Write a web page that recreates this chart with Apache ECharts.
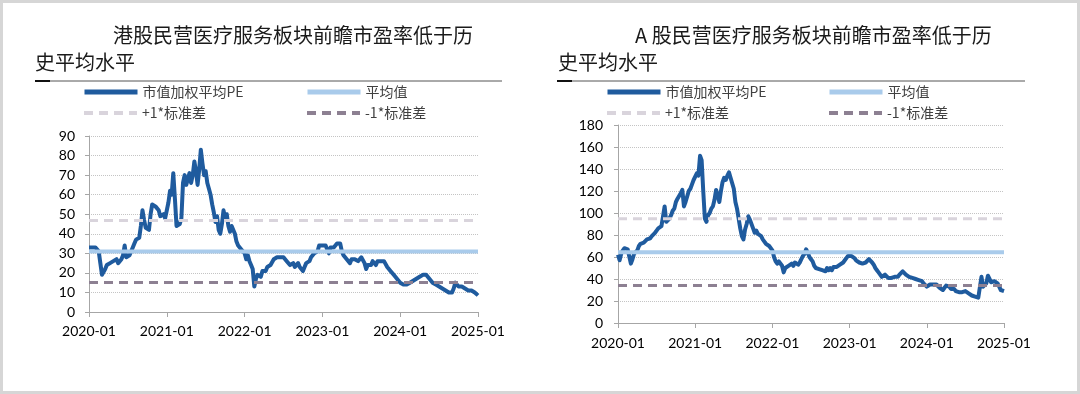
<!DOCTYPE html>
<html>
<head>
<meta charset="utf-8">
<script src="https://cdn.jsdelivr.net/npm/echarts@6/dist/echarts.min.js"></script>
<style>
html,body{margin:0;padding:0;background:#fff;}
#c{width:1080px;height:394px;}
</style>
</head>
<body>
<div id="c"></div>
<script>
// ---- data ----
const xTickLabels = ['2020-01','2021-01','2022-01','2023-01','2024-01','2025-01'];
const STEP = 0.25; // months between samples (weekly), starting 2020-01
// HK private healthcare services forward PE
const hkPE = [
 33,34,33,32, 33,32,31,25, 19,18,22,24, 23,25,24,26, 25,27,25,26, 27,29,34,28,
 27,29,28,33, 35,37,36,38, 44,52,47,43, 44,42,50,55, 56,54,55,52, 49,48,50,48,
 49,56,62,60, 71,58,44,43, 45,48,66,70, 65,68,71,66, 70,77,72,65, 73,83,76,70,
 72,66,63,60, 55,51,46,49, 42,40,45,52, 48,50,44,41, 44,45,40,36, 34,33,32,31,
 30,27,29,26, 24,22,13,17, 19,20,18,21, 22,21,23,22, 24,25,27,26, 28,29,28,27,
 28,27,26,25, 24,23,25,23, 24,25,23,22, 21,23,25,24, 26,28,27,30, 30,31,34,33,
 34,33,34,32, 30,33,34,33, 33,35,34,35, 31,29,28,27, 26,25,27,26, 27,28,26,27,
 28,27,25,22, 24,25,24,26, 25,24,26,25, 26,27,26,25, 23,22,21,20, 19,18,17,16,
 15,14,14,15, 14,15,15,16, 16,17,17,18, 18,19,19,19, 19,18,17,16, 15,15,14,14,
 13,13,12,12, 11,11,10,10, 10,12,15,14, 13,13,13,12, 12,12,11,11, 11,10,10,9.5,
 8.5];
const hkMean = 31, hkUp = 46.8, hkDown = 15.1;
// A-share private healthcare services forward PE
const aPE = [
 62,57,63,66, 68,69,67,68, 54,58,63,62, 66,70,72,71, 73,74,76,77, 77,79,80,82,
 84,86,85,88, 89,106,92,93, 95,98,102,104, 110,113,112,118, 121,106,110,115, 120,122,126,130,
 131,136,134,152, 148,120,95,92, 98,100,104,106, 112,121,116,110, 120,128,132,130, 134,137,132,127,
 122,110,104,95, 86,79,76,85, 90,97,94,93, 86,82,84,81, 80,79,76,74, 72,72,70,69,
 66,60,56,54, 56,57,52,46, 50,51,52,53, 54,52,55,54, 53,55,58,61, 63,67,64,60,
 58,56,52,50, 51,49,50,48, 49,47,50,48, 50,48,51,50, 51,52,53,54, 55,57,59,61,
 62,61,60,59, 57,56,55,54, 54,53,55,54, 58,57,55,53, 50,48,46,44, 42,43,44,43,
 41,42,41,42, 42,43,42,44, 45,47,46,44, 44,42,43,41, 41,40,41,39, 39,38,36,35,
 33,34,35,34, 35,34,35,34, 32,31,30,32, 34,35,33,31, 30,31,29,28, 28,27,28,29,
 29,28,27,26, 25,25,24,23, 23,24,42,33, 34,36,43,40, 37,38,38,39, 36,33,30,29,
 29];
const aMean = 64.3, aUp = 94.8, aDown = 34.1;
const names = ['市值加权平均PE','平均值','+1*标准差','-1*标准差'];
const hkTitle = ['港股民营医疗服务板块前瞻市盈率低于历','史平均水平'];
const aTitle = ['A 股民营医疗服务板块前瞻市盈率低于历','史平均水平'];

// ---- styles ----
const C_MAIN = '#1f5b9e', C_MEAN = '#a9cbeb', C_UP = '#d9d4dc', C_DOWN = '#8d8092';
const FONT_CJK = '"Noto Sans CJK SC", sans-serif';
const FONT_NUM = 'Lato, "Noto Sans", sans-serif';

function toPts(arr){ return arr.map((v,i)=>[i*STEP, v]); }
function flat(v){ return [[0,v],[60,v]]; }

function makeSeries(idx, pe, mean, up, down){
  const base = {type:'line', xAxisIndex:idx, yAxisIndex:idx, symbol:'none', silent:true, animation:false};
  return [
    Object.assign({}, base, {name:names[0], data:toPts(pe), lineStyle:{color:C_MAIN, width:4, join:'round'}, itemStyle:{color:C_MAIN}, z:2}),
    Object.assign({}, base, {name:names[1], data:flat(mean), lineStyle:{color:C_MEAN, width:4}, itemStyle:{color:C_MEAN}, z:3}),
    Object.assign({}, base, {name:names[2], data:flat(up), lineStyle:{color:C_UP, width:3, type:[9,6]}, itemStyle:{color:C_UP}, z:3}),
    Object.assign({}, base, {name:names[3], data:flat(down), lineStyle:{color:C_DOWN, width:3, type:[9,6]}, itemStyle:{color:C_DOWN}, z:3})
  ];
}

function xAxis(idx, margin){
  return {type:'value', gridIndex:idx, min:0, max:60, interval:12,
    axisLine:{show:true, lineStyle:{color:'#a6a6a6', width:1}},
    axisTick:{show:true, length:5, lineStyle:{color:'#a6a6a6'}},
    splitLine:{show:false},
    axisLabel:{margin:margin, color:'#000', fontFamily:FONT_NUM, fontSize:14,
      formatter:(v)=>xTickLabels[Math.round(v/12)]}};
}
function yAxis(idx, max, interval, margin){
  return {type:'value', gridIndex:idx, min:0, max:max, interval:interval,
    axisLine:{show:true, lineStyle:{color:'#a6a6a6', width:1}},
    axisTick:{show:true, length:4, lineStyle:{color:'#a6a6a6'}},
    splitLine:{show:true, lineStyle:{color:'#c4c4c4', type:'dotted', width:1}},
    axisLabel:{margin:margin, color:'#000', fontFamily:FONT_NUM, fontSize:14}};
}
function legendItem(name, left, top, w){
  return {data:[name], left:left, top:top, orient:'horizontal', padding:0,
    itemWidth:53, itemHeight:14, selectedMode:false,
    itemStyle:{opacity:0},
    lineStyle:{width:w},
    textStyle:{fontFamily:FONT_CJK, fontSize:14, color:'#404040'}};
}
function titleItem(text, left, top){
  return {text:text, left:left, top:top, padding:0,
    textStyle:{fontFamily:FONT_CJK, fontSize:20, fontWeight:'normal', color:'#1a1a1a', lineHeight:22}};
}

const option = {
  animation:false,
  backgroundColor:'#fff',
  title:[
    titleItem(hkTitle[0], 113, 24), titleItem(hkTitle[1], 35, 51),
    titleItem(aTitle[0], 635, 24), titleItem(aTitle[1], 558, 51)
  ],
  legend:[
    legendItem(names[0], 82, 85, 5), legendItem(names[1], 305, 85, 5),
    legendItem(names[2], 82, 106, 4), legendItem(names[3], 305, 106, 4),
    legendItem(names[0], 605, 85, 5), legendItem(names[1], 827, 85, 5),
    legendItem(names[2], 605, 106, 4), legendItem(names[3], 827, 106, 4)
  ],
  grid:[
    {left:89, right:602, top:136, bottom:82},
    {left:618, right:76, top:125, bottom:71}
  ],
  xAxis:[xAxis(0, 12), xAxis(1, 13)],
  yAxis:[yAxis(0, 90, 10, 14), yAxis(1, 180, 20, 15)],
  series: makeSeries(0, hkPE, hkMean, hkUp, hkDown).concat(makeSeries(1, aPE, aMean, aUp, aDown)),
  graphic:[
    {type:'rect', shape:{x:1.5, y:1.5, width:1077, height:391}, style:{fill:'none', stroke:'#d6d6d6', lineWidth:3}, silent:true},
    {type:'line', shape:{x1:35, y1:81, x2:502, y2:81}, style:{stroke:'#555', lineWidth:1}, silent:true},
    {type:'line', shape:{x1:35, y1:81, x2:50, y2:81}, style:{stroke:'#111', lineWidth:2}, silent:true},
    {type:'line', shape:{x1:557, y1:81, x2:1025, y2:81}, style:{stroke:'#555', lineWidth:1}, silent:true},
    {type:'line', shape:{x1:557, y1:81, x2:572, y2:81}, style:{stroke:'#111', lineWidth:2}, silent:true}
  ]
};
const chart = echarts.init(document.getElementById('c'), null, {renderer:'canvas'});
chart.setOption(option);
</script>
</body>
</html>
